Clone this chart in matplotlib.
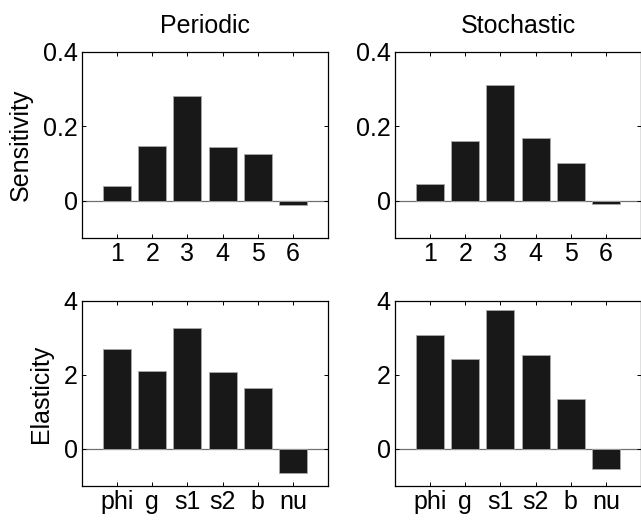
import matplotlib
matplotlib.use("Agg")
import matplotlib.pyplot as plt

positions = [1, 2, 3, 4, 5, 6]
sens_ticklabels = ["1", "2", "3", "4", "5", "6"]
elas_ticklabels = ["phi", "g", "s1", "s2", "b", "nu"]

sens_periodic = [0.039, 0.147, 0.282, 0.145, 0.125, -0.011]
sens_stochastic = [0.045, 0.160, 0.312, 0.170, 0.101, -0.009]
elas_periodic = [2.69, 2.11, 3.26, 2.09, 1.66, -0.64]
elas_stochastic = [3.08, 2.42, 3.77, 2.55, 1.35, -0.53]

titles = ["Periodic", "Stochastic"]

plt.rcParams['font.family'] = ['Liberation Sans', 'DejaVu Sans']
FS = 18

fig = plt.figure(figsize=(6.41, 5.20), dpi=100)
W, H = 641, 520

def make_ax(l, r, t, b):
    return fig.add_axes([l / W, 1 - b / H, (r - l) / W, (b - t) / H])

axes = [
    [make_ax(82, 328, 52, 238), make_ax(395, 641, 52, 238)],
    [make_ax(82, 328, 301, 486), make_ax(395, 641, 301, 486)],
]

data = [[sens_periodic, sens_stochastic], [elas_periodic, elas_stochastic]]
ylims = [(-0.1, 0.4), (-1, 4)]
yticks = [[0, 0.2, 0.4], [0, 2, 4]]
yticklabels = [["0", "0.2", "0.4"], ["0", "2", "4"]]
xlabels = [sens_ticklabels, elas_ticklabels]
ylabels = ["Sensitivity", "Elasticity"]
ylabel_x = [-0.200, -0.116]

for i in range(2):
    for j in range(2):
        ax = axes[i][j]
        ax.axhline(0, color='#707070', lw=0.9, zorder=1)
        ax.bar(positions, data[i][j], width=0.8, color='#181818',
               edgecolor='#a8a8a8', linewidth=0.6, zorder=2)
        ax.set_xlim(0, 7)
        ax.set_ylim(*ylims[i])
        ax.set_xticks(positions)
        ax.set_xticklabels(xlabels[i])
        ax.set_yticks(yticks[i])
        ax.set_yticklabels(yticklabels[i])
        ax.tick_params(direction='in', length=3, width=0.7, top=True, right=True,
                       labelsize=FS, pad=3, colors='black')
        for s in ax.spines.values():
            s.set_linewidth(0.9)
        if j == 0:
            ax.set_ylabel(ylabels[i], fontsize=FS)
            ax.yaxis.set_label_coords(ylabel_x[i], 0.5)
        if i == 0:
            ax.set_title(titles[j], fontsize=FS, pad=14)

fig.savefig("out.png", dpi=100)
